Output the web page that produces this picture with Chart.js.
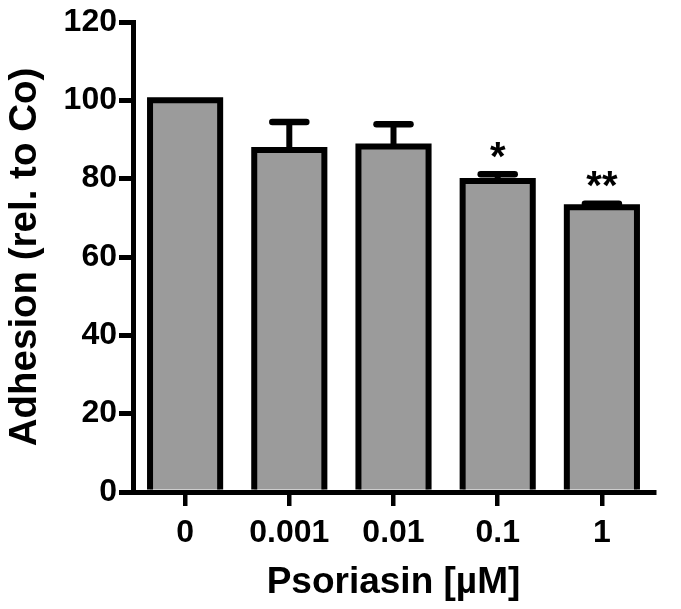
<!DOCTYPE html>
<html>
<head>
<meta charset="utf-8">
<script src="https://cdn.jsdelivr.net/npm/chart.js@4.4.1/dist/chart.umd.min.js"></script>
<style>
  html, body { margin: 0; padding: 0; background: #ffffff; }
  #wrap { width: 681px; height: 609px; position: relative; }
</style>
</head>
<body>
<div id="wrap"><canvas id="c" width="681" height="609"></canvas></div>
<script>
const categories = ['0', '0.001', '0.01', '0.1', '1'];
const adhesion = [100, 87.3, 88.2, 79.4, 72.7];
const sem = [0, 7.2, 5.7, 1.7, 0.9];
const significance = ['', '', '', '*', '**'];
const yTicks = [0, 20, 40, 60, 80, 100, 120];

const FONT = "'Liberation Sans', Arial, Helvetica, sans-serif";

const outlinePlugin = {
  id: 'outlineAndErrors',
  afterDatasetsDraw(chart) {
    const ctx = chart.ctx;
    const meta = chart.getDatasetMeta(0);
    const yScale = chart.scales.y;
    ctx.save();
    ctx.strokeStyle = '#000000';
    meta.data.forEach((bar, i) => {
      const half = bar.width / 2;
      const left = bar.x - half, right = bar.x + half;
      // bar outline (centered stroke)
      ctx.lineWidth = 6;
      ctx.lineJoin = 'miter';
      ctx.lineCap = 'butt';
      ctx.beginPath();
      ctx.moveTo(left, bar.base);
      ctx.lineTo(left, bar.y);
      ctx.lineTo(right, bar.y);
      ctx.lineTo(right, bar.base);
      ctx.stroke();
      // error bar (upper only)
      const topY = yScale.getPixelForValue(adhesion[i] + sem[i]);
      if (sem[i] > 0) {
        ctx.lineWidth = 6;
        ctx.beginPath();
        ctx.moveTo(bar.x, bar.y);
        ctx.lineTo(bar.x, topY);
        ctx.stroke();
        ctx.lineCap = 'round';
        ctx.lineWidth = 6.5;
        ctx.beginPath();
        ctx.moveTo(bar.x - 17, topY);
        ctx.lineTo(bar.x + 17, topY);
        ctx.stroke();
      }
      // significance stars
      if (significance[i]) {
        ctx.fillStyle = '#000000';
        ctx.font = 'bold 40px ' + FONT;
        ctx.textAlign = 'center';
        ctx.textBaseline = 'alphabetic';
        ctx.fillText(significance[i], bar.x, topY - 4.5);
      }
    });
    ctx.restore();
  }
};

new Chart(document.getElementById('c'), {
  type: 'bar',
  data: {
    labels: categories,
    datasets: [{
      data: adhesion,
      backgroundColor: '#9b9b9b',
      borderWidth: 0,
      barPercentage: 0.673,
      categoryPercentage: 1.0
    }]
  },
  options: {
    responsive: false,
    animation: false,
    devicePixelRatio: 1,
    layout: { padding: { top: 22, right: 27, left: 0, bottom: 0 } },
    plugins: {
      legend: { display: false },
      tooltip: { enabled: false }
    },
    scales: {
      x: {
        z: 1,
        afterFit(s) { s.height = 117; },
        border: { display: true, color: '#000000', width: 5 },
        grid: {
          offset: false,
          drawOnChartArea: false,
          drawTicks: true,
          tickLength: 14,
          color: '#000000',
          lineWidth: 4.5
        },
        ticks: {
          color: '#000000',
          padding: 8,
          font: { family: FONT, size: 32, weight: 'bold' }
        },
        title: {
          display: true,
          text: 'Psoriasin [µM]',
          color: '#000000',
          padding: { top: 0, bottom: 4 },
          font: { family: FONT, size: 37, weight: 'bold' }
        }
      },
      y: {
        min: 0,
        max: 120,
        afterFit(s) { s.width = 133; },
        afterBuildTicks(s) { s.ticks = yTicks.map(v => ({ value: v })); },
        border: { display: true, color: '#000000', width: 5 },
        grid: {
          drawOnChartArea: false,
          drawTicks: true,
          tickLength: 14,
          color: '#000000',
          lineWidth: 5
        },
        ticks: {
          color: '#000000',
          padding: 2,
          font: { family: FONT, size: 32, weight: 'bold' }
        },
        title: {
          display: true,
          text: 'Adhesion (rel. to Co)',
          color: '#000000',
          padding: { top: 2, bottom: 0 },
          font: { family: FONT, size: 38.5, weight: 'bold' }
        }
      }
    }
  },
  plugins: [outlinePlugin]
});
</script>
</body>
</html>
